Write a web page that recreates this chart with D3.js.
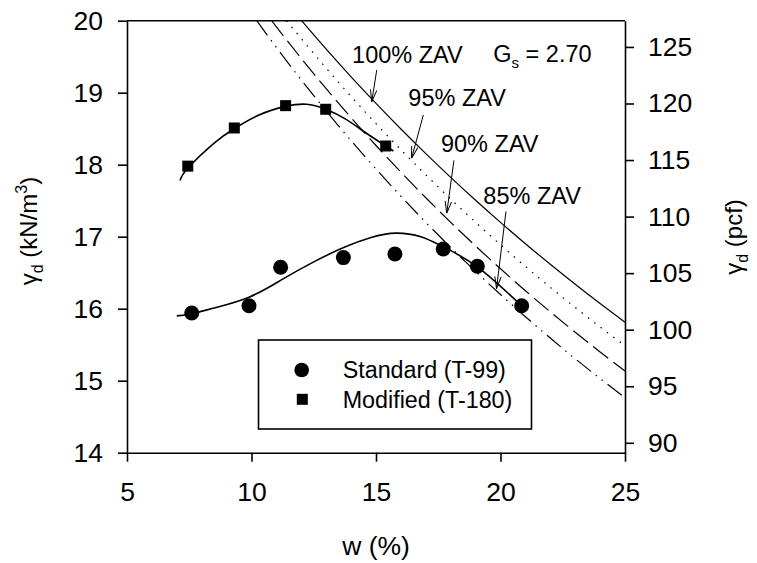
<!DOCTYPE html>
<html>
<head>
<meta charset="utf-8">
<script src="https://cdn.jsdelivr.net/npm/d3@7"></script>
<style>
  html, body { margin: 0; padding: 0; background: #fff; }
  svg { display: block; font-family: "Liberation Sans", Arial, sans-serif; }
</style>
</head>
<body>
<svg id="chart" width="757" height="563"></svg>
<script>
// ---------- data ----------
const xTicks = [5, 10, 15, 20, 25];
const yTicksKN = [14, 15, 16, 17, 18, 19, 20];
const yTicksPCF = [90, 95, 100, 105, 110, 115, 120, 125];

// Standard Proctor (T-99) measured points
const stdW = [7.6, 9.9, 11.17, 13.69, 15.76, 17.7, 19.07, 20.85];
const stdG = [15.94, 16.04, 16.575, 16.71, 16.76, 16.83, 16.59, 16.04];
// Standard fitted curve
const stdFitW = [7.0, 7.6, 8.5, 9.9, 11.2, 12.5, 13.7, 14.8, 15.8, 16.8, 17.7, 19.07, 20.85];
const stdFitG = [15.90, 15.93, 16.01, 16.16, 16.40, 16.65, 16.85, 16.99, 17.05, 17.00, 16.86, 16.58, 16.04];

// Modified Proctor (T-180) measured points
const modW = [7.44, 9.31, 11.37, 12.98, 15.39];
const modG = [17.98, 18.51, 18.82, 18.77, 18.26];
// Modified fitted curve
const modFitW = [7.13, 7.44, 8.5, 9.31, 10.3, 11.37, 12.2, 12.98, 13.8, 14.6, 15.39, 15.7];
const modFitG = [17.78, 17.95, 18.30, 18.50, 18.69, 18.81, 18.84, 18.77, 18.63, 18.44, 18.26, 18.19];

// Zero-air-void lines (read values)
const zav100W = [12.01, 13, 14, 15, 16, 17, 18, 19, 20, 21, 22, 23, 24, 25];
const zav100G = [20.0, 19.605, 19.221, 18.852, 18.496, 18.154, 17.824, 17.506, 17.199, 16.903, 16.617, 16.340, 16.072, 15.813];
const zav95W = [11.40, 12, 13, 14, 15, 16, 17, 18, 19, 20, 21, 22, 23, 24, 25];
const zav95G = [20.0, 19.751, 19.341, 18.948, 18.570, 18.208, 17.859, 17.523, 17.199, 16.888, 16.587, 16.297, 16.017, 15.746, 15.485];
const zav90W = [10.81, 11, 12, 13, 14, 15, 16, 17, 18, 19, 20, 21, 22, 23, 24, 25];
const zav90G = [20.0, 19.915, 19.476, 19.055, 18.653, 18.267, 17.897, 17.541, 17.199, 16.871, 16.554, 16.250, 15.956, 15.673, 15.399, 15.135];
const zav85W = [10.21, 11, 12, 13, 14, 15, 16, 17, 18, 19, 20, 21, 22, 23, 24, 25];
const zav85G = [20.0, 19.629, 19.177, 18.746, 18.334, 17.940, 17.562, 17.199, 16.852, 16.518, 16.197, 15.889, 15.592, 15.305, 15.030, 14.763];

const seriesLabels = ["Standard (T-99)", "Modified (T-180)"];
const zavLabels = ["100% ZAV", "95% ZAV", "90% ZAV", "85% ZAV"];

// ---------- layout ----------
const svg = d3.select("#chart");
const L = 127, R = 625, T = 20.7, B = 452.7;
const PCF_PER_KN = 6.366;

const x = d3.scaleLinear().domain([5, 25]).range([L, R]);
const y = d3.scaleLinear().domain([14, 20]).range([B, T]);
const y2 = d3.scaleLinear().domain([14 * PCF_PER_KN, 20 * PCF_PER_KN]).range([B, T]);

const FS_TICK = 26.5;
const FS_ANN = 23.5;

// clip
const defs = svg.append("defs");
defs.append("clipPath").attr("id", "plotclip")
  .append("rect").attr("x", L).attr("y", T).attr("width", R - L).attr("height", B - T);

defs.append("marker").attr("id", "arrow")
  .attr("viewBox", "0 0 12 8").attr("refX", 12).attr("refY", 4)
  .attr("markerWidth", 12).attr("markerHeight", 8).attr("markerUnits", "userSpaceOnUse")
  .attr("orient", "auto")
  .append("path").attr("d", "M0,0.8 L12,4 L0,7.2").attr("fill", "none")
  .attr("stroke", "#000").attr("stroke-width", 1);

// ---------- axes ----------
function styleAxis(g) {
  g.selectAll("path").attr("stroke", "#000").attr("stroke-width", 1.6);
  g.selectAll("line").attr("stroke", "#000").attr("stroke-width", 1.6);
  g.selectAll("text").attr("font-size", FS_TICK).attr("fill", "#000")
    .attr("font-family", "'Liberation Sans', Arial, sans-serif");
}

svg.append("g").attr("transform", `translate(0,${B})`)
  .call(d3.axisBottom(x).tickValues(xTicks).tickSize(9).tickSizeOuter(0).tickPadding(20).tickFormat(d3.format("d")))
  .call(styleAxis);

svg.append("g").attr("transform", `translate(${L},0)`)
  .call(d3.axisLeft(y).tickValues(yTicksKN).tickSize(9).tickSizeOuter(0).tickPadding(15).tickFormat(d3.format("d")))
  .call(styleAxis);

svg.append("g").attr("transform", `translate(${R},0)`)
  .call(d3.axisRight(y2).tickValues(yTicksPCF).tickSize(9).tickSizeOuter(0).tickPadding(14).tickFormat(d3.format("d")))
  .call(styleAxis);

// top border
svg.append("line").attr("x1", L).attr("x2", R).attr("y1", T).attr("y2", T)
  .attr("stroke", "#000").attr("stroke-width", 1.6);

// ---------- axis titles ----------
svg.append("text").attr("x", (L + R) / 2).attr("y", 555).attr("text-anchor", "middle")
  .attr("font-size", 26.5).text("w (%)");

const lt = svg.append("text").attr("transform", "translate(37,231) rotate(-90)")
  .attr("text-anchor", "middle").attr("font-size", 24);
lt.append("tspan").text("γ");
lt.append("tspan").attr("font-size", 16).attr("dy", 6).text("d");
lt.append("tspan").attr("dy", -6).text(" (kN/m");
lt.append("tspan").attr("font-size", 16).attr("dy", -10).text("3");
lt.append("tspan").attr("dy", 10).text(")");

const rt = svg.append("text").attr("transform", "translate(742,237) rotate(-90)")
  .attr("text-anchor", "middle").attr("font-size", 24);
rt.append("tspan").text("γ");
rt.append("tspan").attr("font-size", 16).attr("dy", 6).text("d");
rt.append("tspan").attr("dy", -6).text(" (pcf)");

// ---------- ZAV lines ----------
const plot = svg.append("g").attr("clip-path", "url(#plotclip)");
const zavLine = d3.line().x(d => x(d[0])).y(d => y(d[1])).curve(d3.curveMonotoneX);
const zavs = [
  { w: zav100W, g: zav100G, dash: null },
  { w: zav95W, g: zav95G, dash: "1.5,6.5" },
  { w: zav90W, g: zav90G, dash: "19,6.5" },
  { w: zav85W, g: zav85G, dash: "18,6,1.5,6,1.5,6" }
];
zavs.forEach(z => {
  plot.append("path").datum(d3.zip(z.w, z.g)).attr("d", zavLine)
    .attr("fill", "none").attr("stroke", "#000").attr("stroke-width", 1.2)
    .attr("stroke-dasharray", z.dash);
});

// ---------- fitted curves ----------
const fitLine = d3.line().x(d => x(d[0])).y(d => y(d[1])).curve(d3.curveNatural);
plot.append("path").datum(d3.zip(stdFitW, stdFitG)).attr("d", fitLine)
  .attr("fill", "none").attr("stroke", "#000").attr("stroke-width", 1.6);
plot.append("path").datum(d3.zip(modFitW, modFitG)).attr("d", fitLine)
  .attr("fill", "none").attr("stroke", "#000").attr("stroke-width", 1.6);

// ---------- points ----------
svg.append("g").selectAll("circle").data(d3.zip(stdW, stdG)).join("circle")
  .attr("cx", d => x(d[0])).attr("cy", d => y(d[1])).attr("r", 7.5).attr("fill", "#000");
const SQ = 11;
svg.append("g").selectAll("rect").data(d3.zip(modW, modG)).join("rect")
  .attr("x", d => x(d[0]) - SQ / 2).attr("y", d => y(d[1]) - SQ / 2)
  .attr("width", SQ).attr("height", SQ).attr("fill", "#000");

// ---------- annotations ----------
const ann = [
  { label: zavLabels[0], tx: 14.04, ty: 19.41, a: [15.03, 19.315, 14.83, 18.875] },
  { label: zavLabels[1], tx: 16.30, ty: 18.815, a: [16.90, 18.69, 16.43, 18.09] },
  { label: zavLabels[2], tx: 17.61, ty: 18.18, a: [18.13, 18.06, 17.84, 17.325] },
  { label: zavLabels[3], tx: 19.31, ty: 17.46, a: [20.22, 17.35, 19.84, 16.28] }
];
ann.forEach(o => {
  svg.append("text").attr("x", x(o.tx)).attr("y", y(o.ty)).attr("font-size", FS_ANN).text(o.label);
  svg.append("line").attr("x1", x(o.a[0])).attr("y1", y(o.a[1]))
    .attr("x2", x(o.a[2])).attr("y2", y(o.a[3]))
    .attr("stroke", "#000").attr("stroke-width", 1).attr("marker-end", "url(#arrow)");
});

const gs = svg.append("text").attr("x", x(19.71)).attr("y", y(19.43)).attr("font-size", FS_ANN);
gs.append("tspan").text("G");
gs.append("tspan").attr("font-size", 15).attr("dy", 6).text("s");
gs.append("tspan").attr("dy", -6).text(" = 2.70");

// ---------- legend ----------
const lg = svg.append("g");
lg.append("rect").attr("x", 258.5).attr("y", 340).attr("width", 273).attr("height", 89)
  .attr("fill", "#fff").attr("stroke", "#000").attr("stroke-width", 1.6);
lg.append("circle").attr("cx", 301.7).attr("cy", 370).attr("r", 7.3).attr("fill", "#000");
lg.append("rect").attr("x", 302.3 - 5.5).attr("y", 399.3 - 5.5).attr("width", 11).attr("height", 11).attr("fill", "#000");
lg.append("text").attr("x", 342.7).attr("y", 377.8).attr("font-size", 23.3).text(seriesLabels[0]);
lg.append("text").attr("x", 342.7).attr("y", 407.8).attr("font-size", 23.3).text(seriesLabels[1]);
</script>
</body>
</html>
